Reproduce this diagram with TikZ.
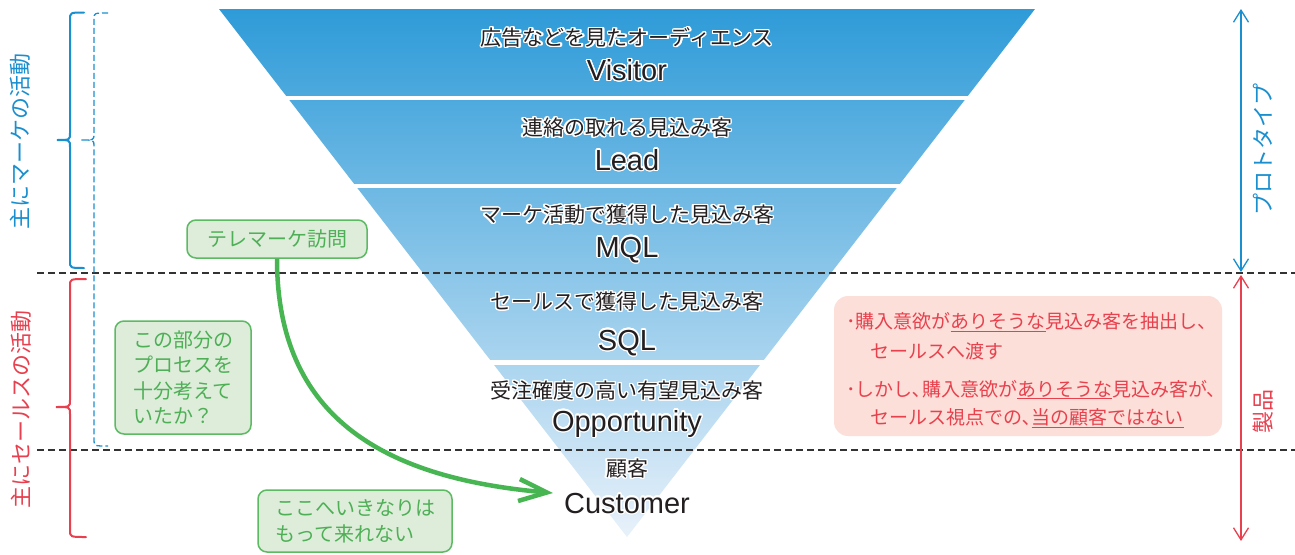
\documentclass[tikz,border=0pt]{standalone}
\usepackage{fontspec}
\setmainfont{Liberation Sans}
\newfontfamily\jp{Noto Sans CJK JP}
\usepackage[copies]{contour}
\contourlength{1.3pt}
\contournumber{24}
\usetikzlibrary{arrows.meta}
\definecolor{ftop}{HTML}{2E9BD8}
\definecolor{fbot}{HTML}{E8F1FA}
\definecolor{mblue}{HTML}{1A8FD0}
\definecolor{sred}{HTML}{E8404F}
\definecolor{gline}{HTML}{5CBA63}
\definecolor{gfill}{HTML}{DDEDDA}
\definecolor{gtext}{HTML}{4EAF56}
\definecolor{garr}{HTML}{46B552}
\definecolor{rfill}{HTML}{FCDFD9}
\definecolor{rtext}{HTML}{E8414E}
\definecolor{dtext}{HTML}{231F20}
\tikzset{
  jplab/.style={inner sep=0pt, text=dtext, font={\jp\fontsize{21}{21}\selectfont}, anchor=base},
  enlab/.style={inner sep=0pt, text=dtext, font={\fontsize{29}{29}\selectfont}, anchor=base},
  sidelab/.style={inner sep=0pt, rotate=90, font={\jp\fontsize{22}{22}\selectfont}},
  gbox/.style={draw=gline, fill=gfill, line width=1.5pt, rounded corners=9pt, text=gtext, inner sep=0pt,
     font={\jp\fontsize{20}{25.5}\selectfont}, align=left},
  rline/.style={inner sep=0pt, anchor=base west, text=rtext, font={\jp\fontsize{19}{19}\selectfont}},
  dline/.style={draw=black!80, line width=1.4pt, dash pattern=on 7pt off 4pt},
  bracefull/.style={line width=2pt, line cap=round},
  dimarrow/.style={line width=1.3pt, {Straight Barb[length=12pt,width=15pt]}-{Straight Barb[length=12pt,width=15pt]}},
  garrow/.style={draw=garr, line width=4.5pt, -{Straight Barb[length=28pt,width=22pt]}}
}
\newcommand{\hl}[1]{\contour{white}{#1}}
\newcommand{\ul}[1]{\underline{#1}}
\begin{document}
\begin{tikzpicture}[x=1pt,y=-1pt]
\useasboundingbox (0,0) rectangle (1295,554);
\fill[white] (0,0) rectangle (1295,554);
% funnel
\shade[top color=ftop, bottom color=fbot] (219,9) -- (1035,9) -- (627,537) -- cycle;
\fill[white] (200,96) rectangle (1060,100);
\fill[white] (200,183.5) rectangle (1060,188);
\fill[white] (200,360) rectangle (1060,364.5);
% dashed separators
\coordinate (d1a) at (37,273); \coordinate (d1b) at (1295,273);
\coordinate (d2a) at (37,450); \coordinate (d2b) at (1295,450);
\draw[dline] (d1a) -- (d1b);
\draw[dline] (d2a) -- (d2b);
% funnel texts
\node[jplab] (j1) at (627,45.5) {\hl{広告などを見たオーディエンス}};
\node[enlab] (e1) at (627,80.5) {\hl{Visitor}};
\node[jplab] (j2) at (627,135.5) {\hl{連絡の取れる見込み客}};
\node[enlab] (e2) at (627,170) {\hl{Lead}};
\node[jplab] (j3) at (627,222.5) {\hl{マーケ活動で獲得した見込み客}};
\node[enlab] (e3) at (627,257) {\hl{MQL}};
\node[jplab] (j4) at (627,309.5) {\hl{セールスで獲得した見込み客}};
\node[enlab] (e4) at (627,350) {\hl{SQL}};
\node[jplab] (j5) at (627,398.5) {\hl{受注確度の高い有望見込み客}};
\node[enlab] (e5) at (627,431) {\hl{Opportunity}};
\node[jplab] (j6) at (627,476.5) {\hl{顧客}};
\node[enlab] (e6) at (627,513) {\hl{Customer}};
% left braces
\draw[mblue, bracefull] (84,12.5) .. controls (70,12.5) .. (70,20) -- (70,133) .. controls (70,140) .. (57,140)
   .. controls (70,140) .. (70,147) -- (70,261) .. controls (70,268) .. (84,268);
\draw[sred, bracefull] (86,279) .. controls (70,279) .. (70,286) -- (70,400) .. controls (70,407) .. (56,407)
   .. controls (70,407) .. (70,414) -- (70,530) .. controls (70,537) .. (86,537);
\draw[mblue, line width=1.3pt, dash pattern=on 6pt off 3pt] (108,13) .. controls (94,13) .. (94,19) -- (94,134)
   .. controls (94,140) .. (81,140) .. controls (94,140) .. (94,146) -- (94,440) .. controls (94,446) .. (108,446);
\node[sidelab, text=mblue] (sl1) at (20,141.5) {主にマーケの活動};
\node[sidelab, text=sred] (sl2) at (21,409) {主にセールスの活動};
% right dimension arrows
\coordinate (ra1) at (1241,9); \coordinate (ra2) at (1241,272);
\coordinate (rb1) at (1241,275); \coordinate (rb2) at (1241,541);
\draw[mblue, dimarrow] (ra1) -- (ra2);
\draw[sred, dimarrow] (rb1) -- (rb2);
\node[sidelab, text=mblue] (pr) at (1263,149) {プロトタイプ};
\node[sidelab, text=sred] (sei) at (1263,411) {製品};
% green boxes
\node[gbox, minimum width=180pt, minimum height=38pt] (tele) at (277,239) {テレマーケ訪問};
\node[gbox, minimum width=136pt, minimum height=113pt] (q) at (183,377.5) {この部分の\\プロセスを\\十分考えて\\いたか？};
\node[gbox, minimum width=194pt, minimum height=62pt, font={\jp\fontsize{20}{26}\selectfont}] (nope) at (355,521) {ここへいきなりは\\もって来れない};
% green arrow
\coordinate (cust) at (553,493);
\draw[garrow] (tele.south) .. controls (277,415) and (380,478) .. (cust);
% red box
\node[fill=rfill, rounded corners=14pt, minimum width=388pt, minimum height=140pt, inner sep=0pt] (rbox) at (1028,366) {};
\node[rline] (r1) at (846,328.5) {･購入意欲が\ul{ありそうな}見込み客を抽出し、};
\node[rline] (r2) at (870,358.5) {セールスへ渡す};
\node[rline] (r3) at (846,396) {･しかし､購入意欲が\ul{ありそうな}見込み客が、};
\node[rline] (r4) at (870,424) {セールス視点での､\ul{当の顧客ではない}};
\end{tikzpicture}
\end{document}
